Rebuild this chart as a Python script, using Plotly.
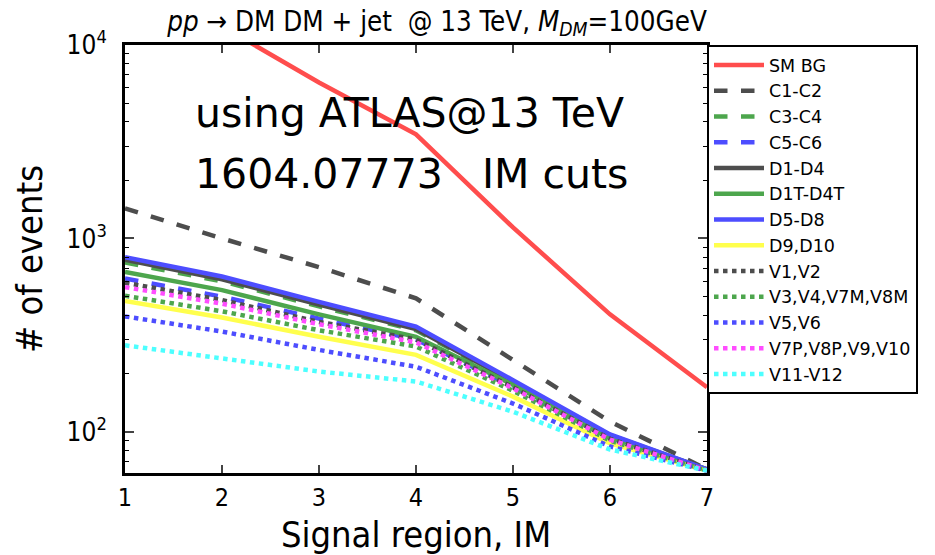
import plotly.graph_objects as go

regions = [1, 2, 3, 4, 5, 6, 7]

series_names = ["SM BG", "C1-C2", "C3-C4", "C5-C6", "D1-D4", "D1T-D4T", "D5-D8",
                "D9,D10", "V1,V2", "V3,V4,V7M,V8M", "V5,V6", "V7P,V8P,V9,V10", "V11-V12"]

sm_bg = [25000, 12500, 6400, 3450, 1140, 405, 170]
c1_c2 = [1430, 1000, 710, 490, 235, 113, 64]
c3_c4 = [750, 600, 445, 335, 180, 95, 64]
c5_c6 = [620, 500, 385, 300, 172, 93, 64]
d1_d4 = [775, 615, 455, 340, 182, 96, 64]
d1t_d4t = [670, 540, 405, 310, 175, 94, 64]
d5_d8 = [800, 635, 470, 350, 185, 97, 64]
d9_d10 = [475, 390, 310, 250, 152, 87, 63]
v1_v2 = [590, 480, 370, 300, 170, 92, 63]
v3_v4 = [505, 420, 335, 276, 163, 90, 63]
v5_v6 = [395, 330, 265, 217, 140, 84, 63]
v7p_v10 = [560, 460, 360, 290, 168, 91, 63]
v11_v12 = [280, 240, 205, 182, 127, 81, 63]

series_values = [sm_bg, c1_c2, c3_c4, c5_c6, d1_d4, d1t_d4t, d5_d8,
                 d9_d10, v1_v2, v3_v4, v5_v6, v7p_v10, v11_v12]

colors = ["rgb(255,77,77)", "rgb(77,77,77)", "rgb(77,166,77)", "rgb(77,77,255)",
          "rgb(77,77,77)", "rgb(77,166,77)", "rgb(77,77,255)", "rgb(255,255,77)",
          "rgb(77,77,77)", "rgb(77,166,77)", "rgb(77,77,255)", "rgb(255,77,255)",
          "rgb(77,255,255)"]
dashes = ["solid", "dash", "dash", "dash", "solid", "solid", "solid", "solid",
          "dot", "dot", "dot", "dot", "dot"]

y_tickvals = [100, 1000, 10000]
y_ticktext = ["10<sup>2</sup>", "10<sup>3</sup>", "10<sup>4</sup>"]

FONT = "DejaVu Sans Condensed, DejaVu Sans"

fig = go.Figure()
for name, vals, col, dsh in zip(series_names, series_values, colors, dashes):
    fig.add_trace(go.Scatter(x=regions, y=vals, name=name, mode="lines",
                             line=dict(color=col, width=4.5, dash=dsh)))

fig.update_layout(
    width=935, height=555,
    margin=dict(l=125, r=228, t=45, b=82, autoexpand=False),
    paper_bgcolor="white", plot_bgcolor="white",
    font=dict(family=FONT, color="black"),
    title=dict(text="<i>pp</i> → DM DM + jet  @ 13 TeV, <i>M</i><sub><i>DM</i></sub>=100GeV",
               x=437 / 935, xanchor="center", y=0.962, yanchor="middle",
               font=dict(size=27.5, family=FONT)),
    legend=dict(x=1.0, xanchor="left", y=1.0, yanchor="top",
                bordercolor="black", borderwidth=2, bgcolor="white",
                font=dict(size=17.5, family="DejaVu Sans"), tracegroupgap=0,
                itemwidth=50),
    showlegend=True,
)

fig.update_xaxes(range=[1, 7], tickvals=regions, ticks="inside", ticklen=8, tickwidth=1.5,
                 showline=True, linecolor="black", linewidth=3, mirror="ticks",
                 showgrid=False, zeroline=False,
                 tickfont=dict(size=25), title=dict(text="Signal region, IM", font=dict(size=36), standoff=12))
fig.update_yaxes(type="log", range=[1.787, 4], tickvals=y_tickvals, ticktext=y_ticktext,
                 ticks="inside", ticklen=9, tickwidth=1.5, ticklabelstandoff=10,
                 minor=dict(ticks="inside", ticklen=4, tickwidth=1, tickcolor="black",
                            tickvals=[60, 70, 80, 90, 200, 300, 400, 500, 600, 700, 800, 900,
                                      2000, 3000, 4000, 5000, 6000, 7000, 8000, 9000]),
                 showline=True, linecolor="black", linewidth=3, mirror="ticks",
                 showgrid=False, zeroline=False,
                 tickfont=dict(size=26), title=dict(text="# of events", font=dict(size=36), standoff=14))

fig.add_annotation(xref="paper", yref="paper", x=(193 - 125) / 582, y=(473 - 113) / 428,
                   xanchor="left", yanchor="middle",
                   text="using ATLAS@13 TeV", showarrow=False,
                   font=dict(size=41, family="DejaVu Sans", color="black"))
fig.add_annotation(xref="paper", yref="paper", x=(193 - 125) / 582, y=(473 - 174) / 428,
                   xanchor="left", yanchor="middle",
                   text="1604.07773   IM cuts", showarrow=False,
                   font=dict(size=41, family="DejaVu Sans", color="black"))

fig.write_html("out.html")
